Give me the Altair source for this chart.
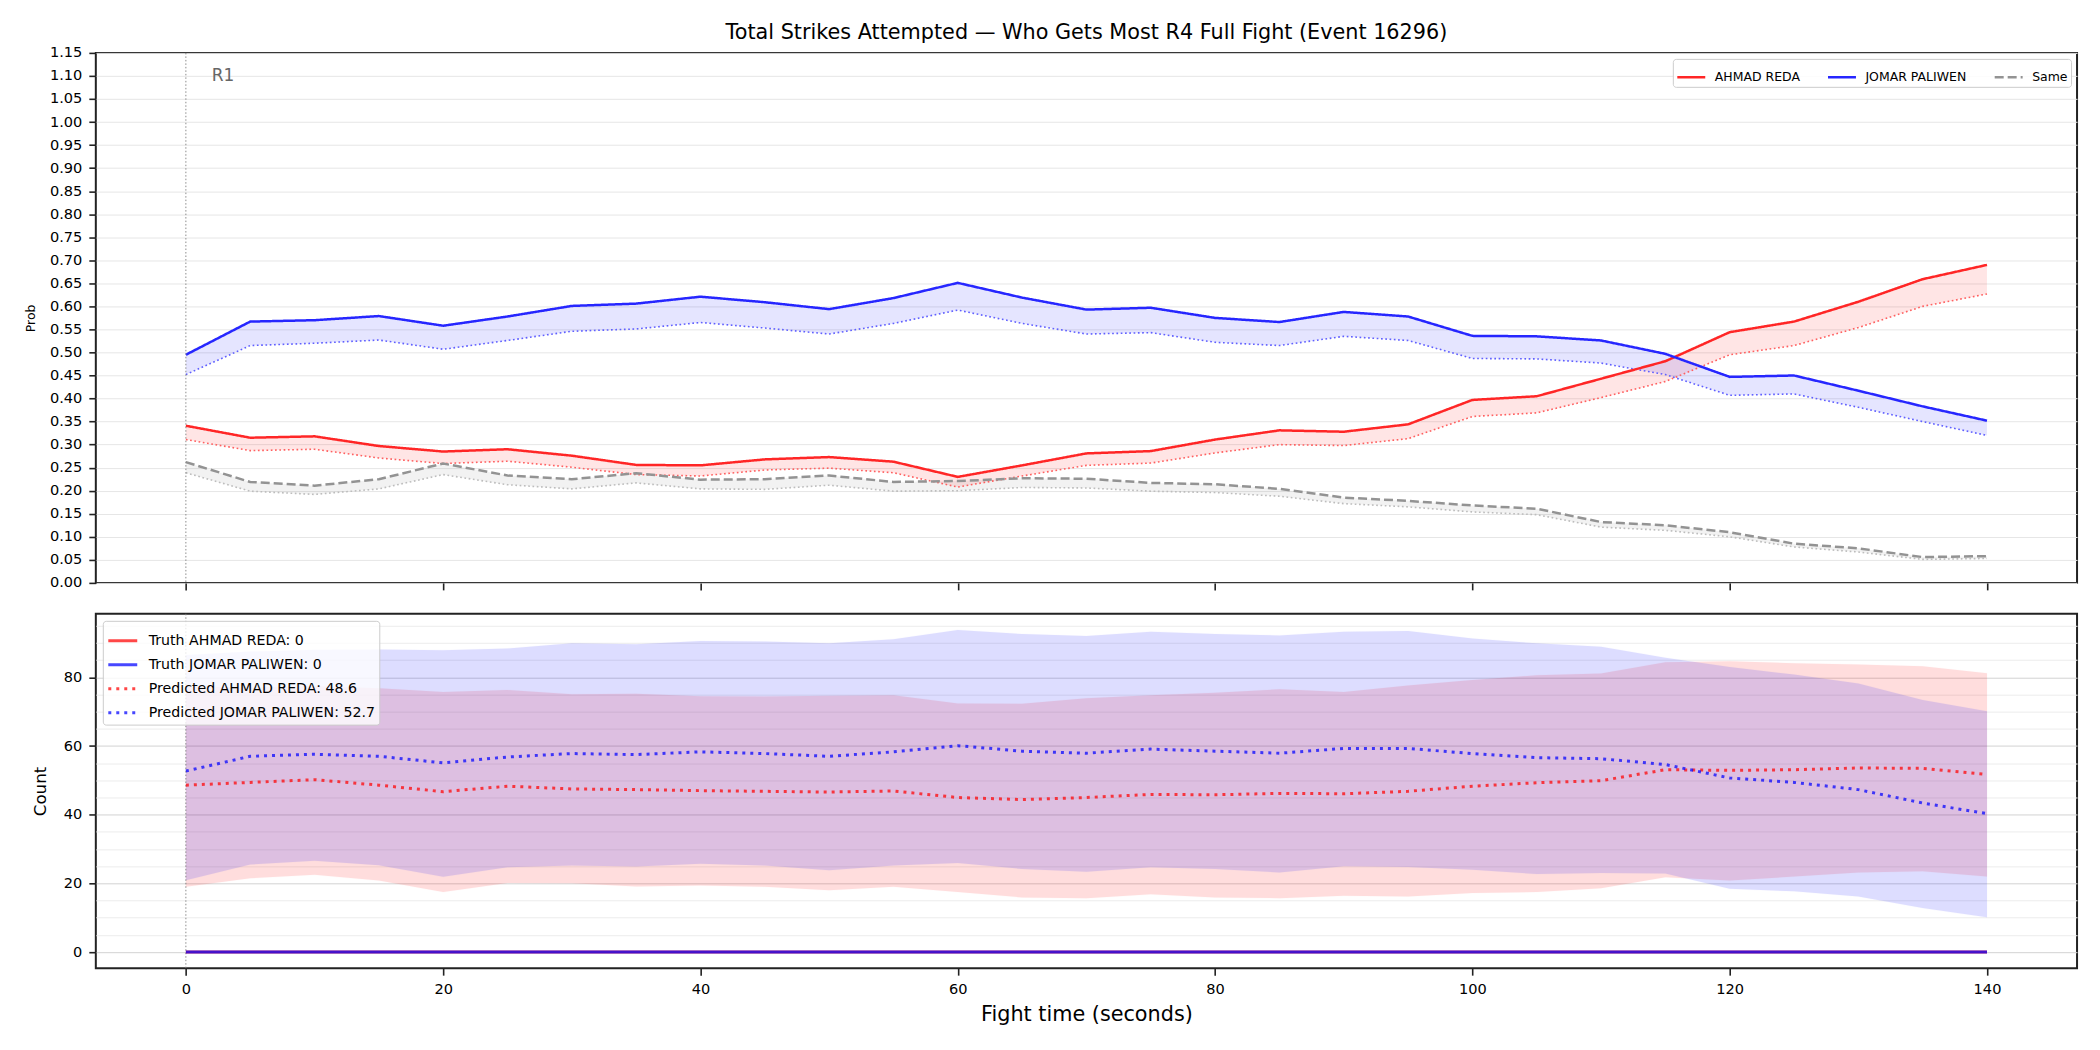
import altair as alt
import pandas as pd

# ---- time grid (seconds into the fight) ----
TIME_S = [0, 5, 10, 15, 20, 25, 30, 35, 40, 45, 50, 55, 60, 65, 70,
          75, 80, 85, 90, 95, 100, 105, 110, 115, 120, 125, 130, 135, 140]

# ---- top panel: probability of out-striking the other fighter ----
OUTCOMES = ["AHMAD REDA", "JOMAR PALIWEN", "Same"]
REDA_PROB = [0.341, 0.315, 0.318, 0.297, 0.285, 0.290, 0.276, 0.256, 0.255, 0.268,
             0.273, 0.263, 0.230, 0.255, 0.281, 0.286, 0.311, 0.331, 0.328, 0.344,
             0.397, 0.405, 0.443, 0.481, 0.544, 0.567, 0.610, 0.659, 0.690]
REDA_PRED = [0.311, 0.287, 0.290, 0.271, 0.259, 0.264, 0.251, 0.235, 0.232, 0.245,
             0.249, 0.239, 0.208, 0.232, 0.255, 0.260, 0.282, 0.300, 0.298, 0.313,
             0.361, 0.369, 0.402, 0.437, 0.495, 0.515, 0.554, 0.600, 0.627]
PALIWEN_PROB = [0.495, 0.567, 0.570, 0.579, 0.558, 0.578, 0.601, 0.606, 0.621, 0.609,
                0.594, 0.618, 0.651, 0.619, 0.593, 0.597, 0.575, 0.566, 0.588, 0.578,
                0.536, 0.535, 0.526, 0.497, 0.447, 0.450, 0.417, 0.383, 0.352]
PALIWEN_PRED = [0.452, 0.515, 0.520, 0.527, 0.507, 0.526, 0.546, 0.551, 0.565, 0.553,
                0.540, 0.563, 0.592, 0.563, 0.540, 0.543, 0.522, 0.515, 0.535, 0.526,
                0.487, 0.486, 0.477, 0.452, 0.407, 0.410, 0.381, 0.350, 0.320]
SAME_PROB = [0.262, 0.219, 0.211, 0.225, 0.259, 0.233, 0.225, 0.238, 0.224, 0.225,
             0.233, 0.219, 0.221, 0.227, 0.226, 0.217, 0.214, 0.204, 0.185, 0.178,
             0.168, 0.161, 0.132, 0.125, 0.110, 0.085, 0.075, 0.056, 0.058]
SAME_PRED = [0.239, 0.199, 0.192, 0.204, 0.235, 0.213, 0.204, 0.217, 0.204, 0.203,
             0.212, 0.199, 0.200, 0.207, 0.206, 0.199, 0.196, 0.188, 0.172, 0.165,
             0.154, 0.148, 0.121, 0.114, 0.100, 0.078, 0.067, 0.051, 0.053]

# ---- bottom panel: strike counts, truth vs predicted with bands ----
TRUTH_REDA = [0, 0, 0, 0, 0, 0, 0, 0, 0, 0, 0, 0, 0, 0, 0,
              0, 0, 0, 0, 0, 0, 0, 0, 0, 0, 0, 0, 0, 0]
TRUTH_PALIWEN = [0, 0, 0, 0, 0, 0, 0, 0, 0, 0, 0, 0, 0, 0, 0,
                 0, 0, 0, 0, 0, 0, 0, 0, 0, 0, 0, 0, 0, 0]
PRED_REDA = [48.6, 49.4, 50.2, 48.6, 46.7, 48.3, 47.5, 47.3, 47.0, 46.8,
             46.6, 46.9, 45.0, 44.4, 45.0, 45.9, 45.8, 46.2, 46.1, 46.8,
             48.3, 49.3, 49.9, 53.1, 52.9, 53.1, 53.6, 53.5, 51.7]
PRED_PALIWEN = [52.7, 57.0, 57.6, 57.0, 55.1, 56.8, 57.8, 57.5, 58.3, 57.8,
                57.0, 58.3, 60.1, 58.5, 57.9, 59.1, 58.5, 57.9, 59.3, 59.3,
                57.8, 56.6, 56.3, 54.6, 50.7, 49.4, 47.3, 43.4, 40.3]
REDA_LO = [19.0, 21.5, 22.5, 20.8, 17.5, 20.1, 20.0, 19.1, 19.4, 19.0,
           18.0, 19.0, 17.5, 15.9, 15.7, 16.8, 15.9, 15.7, 16.4, 16.2,
           17.2, 17.5, 18.6, 21.8, 20.8, 22.0, 23.2, 23.5, 22.0]
REDA_HI = [77.5, 77.0, 77.5, 76.8, 75.7, 76.3, 75.1, 75.2, 74.5, 74.4,
           74.6, 74.8, 72.4, 72.3, 73.9, 74.8, 75.5, 76.5, 75.7, 77.6,
           79.2, 80.6, 81.1, 84.4, 84.7, 84.1, 83.7, 83.2, 81.2]
PALIWEN_LO = [20.9, 25.5, 26.6, 25.3, 21.9, 24.7, 25.2, 24.9, 25.7, 25.2,
              23.8, 25.2, 25.9, 24.2, 23.4, 24.7, 24.2, 23.2, 25.0, 24.8,
              24.0, 22.7, 23.0, 22.9, 18.4, 17.7, 16.2, 12.8, 10.1]
PALIWEN_HI = [86.5, 87.5, 88.0, 88.1, 87.9, 88.4, 89.9, 89.6, 90.6, 90.4,
              89.9, 91.1, 93.8, 92.6, 92.0, 93.3, 92.6, 92.2, 93.3, 93.5,
              91.3, 89.9, 88.9, 85.7, 83.0, 80.8, 78.2, 73.4, 70.1]

# ---- annotations and tick positions ----
ROUND_STARTS = [0]
ROUND_LABELS = ["R1"]
TIME_TICKS = [0, 20, 40, 60, 80, 100, 120, 140]
PROB_TICKS = [0.00, 0.05, 0.10, 0.15, 0.20, 0.25, 0.30, 0.35, 0.40, 0.45, 0.50, 0.55,
              0.60, 0.65, 0.70, 0.75, 0.80, 0.85, 0.90, 0.95, 1.00, 1.05, 1.10, 1.15]
COUNT_TICKS = [0, 5, 10, 15, 20, 25, 30, 35, 40, 45, 50, 55, 60, 65, 70, 75, 80, 85, 90, 95]

FONT = "DejaVu Sans"
RED, BLUE, GRAY = "#ff0000", "#0000ff", "#808080"
TICK_FS = 14.6

# ---------------- data tables ----------------
prob_rows = []
for name, actual, pred in zip(OUTCOMES, [REDA_PROB, PALIWEN_PROB, SAME_PROB],
                              [REDA_PRED, PALIWEN_PRED, SAME_PRED]):
    for t, a, p in zip(TIME_S, actual, pred):
        prob_rows.append({"t": t, "outcome": name, "actual": a, "pred": p})
prob_df = pd.DataFrame(prob_rows)

rounds_df = pd.DataFrame({"t": ROUND_STARTS, "label": ROUND_LABELS})

FIGHTERS = ["AHMAD REDA", "JOMAR PALIWEN"]
band_rows = []
for name, lo, hi in zip(FIGHTERS, [REDA_LO, PALIWEN_LO], [REDA_HI, PALIWEN_HI]):
    for t, l, h in zip(TIME_S, lo, hi):
        band_rows.append({"t": t, "fighter": name, "lo": l, "hi": h})
band_df = pd.DataFrame(band_rows)

ENTRIES = [
    f"Truth AHMAD REDA: {TRUTH_REDA[0]}",
    f"Truth JOMAR PALIWEN: {TRUTH_PALIWEN[0]}",
    f"Predicted AHMAD REDA: {PRED_REDA[0]}",
    f"Predicted JOMAR PALIWEN: {PRED_PALIWEN[0]}",
]
count_rows = []
for rank, (entry, series) in enumerate(zip(ENTRIES, [TRUTH_REDA, TRUTH_PALIWEN, PRED_REDA, PRED_PALIWEN])):
    for t, v in zip(TIME_S, series):
        count_rows.append({"t": t, "entry": entry, "value": v, "rank": rank})
count_df = pd.DataFrame(count_rows)

# x range padded by 5% of the data span on each side
t_span = max(TIME_S) - min(TIME_S)
x_domain = [min(TIME_S) - 0.05 * t_span, max(TIME_S) + 0.05 * t_span]

all_counts = TRUTH_REDA + PRED_REDA + PRED_PALIWEN + REDA_LO + REDA_HI + PALIWEN_LO + PALIWEN_HI
c_span = max(all_counts) - min(all_counts)
count_domain = [min(all_counts) - 0.05 * c_span, max(all_counts) + 0.05 * c_span]

W = 1985
H_TOP = 531
H_BOT = 355


def x_enc(labels):
    return alt.X(
        "t:Q",
        scale=alt.Scale(domain=x_domain, nice=False, zero=False),
        axis=alt.Axis(values=TIME_TICKS, labels=labels, title="Fight time (seconds)" if labels else None,
                      grid=False, tickSize=7, labelFontSize=TICK_FS, labelPadding=6,
                      titleFontSize=20.8, titlePadding=9, titleFontWeight="normal"),
    )


def prob_y(field):
    return alt.Y(
        f"{field}:Q",
        scale=alt.Scale(domain=[0, 1.15], nice=False, zero=False),
        axis=alt.Axis(values=PROB_TICKS, format=".2f", title="Prob", titleFontSize=12.5,
                      titleFontWeight="normal", titlePadding=12, labelFontSize=TICK_FS, tickSize=7,
                      labelPadding=7, grid=True, gridColor="#e6e6e6", gridWidth=1),
    )


major = "datum.value % 20 === 0"


def count_y(field):
    return alt.Y(
        f"{field}:Q",
        scale=alt.Scale(domain=count_domain, nice=False, zero=False),
        axis=alt.Axis(values=COUNT_TICKS, labelExpr=f"{major} ? datum.label : ''",
                      tickOpacity={"condition": {"test": major, "value": 1}, "value": 0},
                      gridColor={"condition": {"test": major, "value": "#d2d2d2"}, "value": "#ececec"},
                      title="Count", titleFontSize=16.7, titleFontWeight="normal", titlePadding=14,
                      labelFontSize=TICK_FS, tickSize=7, labelPadding=7, grid=True, gridWidth=1),
    )


# ---------------- top panel ----------------
top_layers = []
for name, col in zip(OUTCOMES, [RED, BLUE, GRAY]):
    top_layers.append(
        alt.Chart(prob_df).transform_filter(alt.datum.outcome == name)
        .mark_area(color=col, opacity=0.1)
        .encode(x=x_enc(False), y=prob_y("actual"), y2="pred:Q")
    )
for name, col in zip(OUTCOMES, ["#ff6060", "#6060ff", "#bdbdbd"]):
    top_layers.append(
        alt.Chart(prob_df).transform_filter(alt.datum.outcome == name)
        .mark_line(color=col, strokeWidth=1.6, strokeDash=[1.7, 2.6])
        .encode(x=x_enc(False), y=prob_y("pred"))
    )

top_legend = alt.Legend(title=None, orient="top-right", direction="horizontal", offset=6,
                        symbolType="stroke", symbolSize=784, symbolStrokeWidth=2.5,
                        labelFontSize=12.5, labelOffset=8, columnPadding=22, padding=3,
                        labelLimit=400,
                        fillColor="rgba(255,255,255,0.85)", strokeColor="#cccccc", cornerRadius=3)
top_layers.append(
    alt.Chart(prob_df).mark_line(strokeWidth=2.5)
    .encode(
        x=x_enc(False), y=prob_y("actual"),
        color=alt.Color("outcome:N", scale=alt.Scale(domain=OUTCOMES, range=["#ff2626", "#2626ff", "#939393"]),
                        legend=top_legend),
        strokeDash=alt.StrokeDash("outcome:N", scale=alt.Scale(domain=OUTCOMES, range=[[1, 0], [1, 0], [9, 4]]),
                                  legend=top_legend),
    )
)
top_layers.append(
    alt.Chart(rounds_df).mark_rule(color="#808080", strokeWidth=1, strokeDash=[1.5, 2], opacity=0.9)
    .encode(x=x_enc(False))
)
top_layers.append(
    alt.Chart(rounds_df).mark_text(align="left", baseline="middle", dx=26, fontSize=17, color="#666666", font=FONT)
    .encode(x=x_enc(False), y=alt.value(23), text="label:N")
)
top = alt.layer(*top_layers).properties(width=W, height=H_TOP)

# ---------------- bottom panel ----------------
bot_layers = []
for name, col, op in zip(FIGHTERS, [RED, BLUE], [0.13, 0.13]):
    bot_layers.append(
        alt.Chart(band_df).transform_filter(alt.datum.fighter == name)
        .mark_area(color=col, opacity=op, stroke=col, strokeOpacity=0.12, strokeWidth=1)
        .encode(x=x_enc(True), y=count_y("lo"), y2="hi:Q")
    )
bot_layers.append(
    alt.Chart(rounds_df).mark_rule(color="#808080", strokeWidth=1, strokeDash=[1.5, 2], opacity=0.9)
    .encode(x=x_enc(True))
)
bot_legend = alt.Legend(title=None, orient="top-left", direction="vertical", offset=7,
                        symbolType="stroke", symbolSize=841, symbolStrokeWidth=3,
                        labelFontSize=14.2, labelOffset=10, rowPadding=0, padding=4,
                        labelLimit=500,
                        fillColor="rgba(255,255,255,0.8)", strokeColor="#cccccc", cornerRadius=3)
bot_layers.append(
    alt.Chart(count_df).mark_line(strokeWidth=3, opacity=0.72, strokeCap="butt")
    .encode(
        x=x_enc(True), y=count_y("value"),
        color=alt.Color("entry:N", scale=alt.Scale(domain=ENTRIES, range=[RED, BLUE, RED, BLUE]),
                        legend=bot_legend),
        strokeDash=alt.StrokeDash("entry:N", scale=alt.Scale(domain=ENTRIES, range=[[1, 0], [1, 0], [3, 5], [3, 5]]),
                                  legend=bot_legend),
        order=alt.Order("rank:Q"),
    )
)
bottom = alt.layer(*bot_layers).properties(width=W, height=H_BOT)

chart = (
    alt.vconcat(top, bottom, spacing=31, bounds="flush",
                title=alt.TitleParams("Total Strikes Attempted \u2014 Who Gets Most R4 Full Fight (Event 16296)",
                                      fontSize=20.8, font=FONT, fontWeight="normal", anchor="middle",
                                      frame="group", offset=0, color="black"))
    .resolve_scale(x="independent", y="independent", color="independent", strokeDash="independent")
    .properties(padding={"left": 23, "top": 21, "right": 22, "bottom": 25}, background="white")
    .configure_view(stroke="#222222", strokeWidth=2)
    .configure_axis(labelFont=FONT, titleFont=FONT, labelColor="black", titleColor="black",
                    tickColor="#222222", tickWidth=1.6, domain=False)
    .configure_legend(labelFont=FONT, labelColor="black")
)

chart.save("out.html", embed_options={"renderer": "svg", "actions": False})
